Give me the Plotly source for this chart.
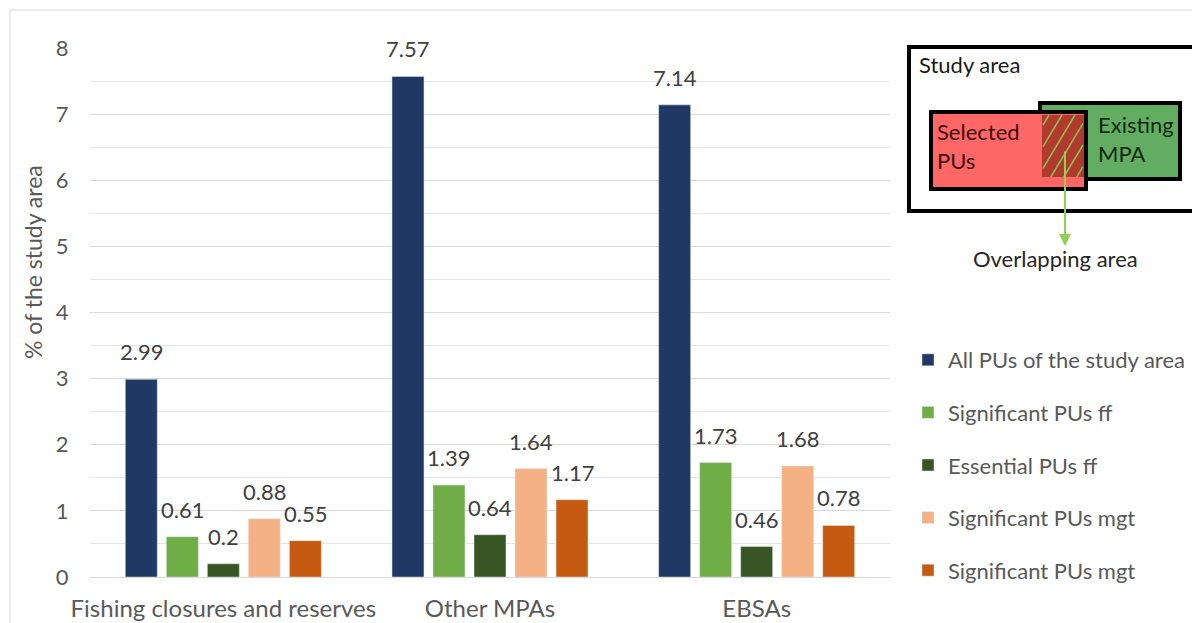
import plotly.graph_objects as go

categories = ["Fishing closures and reserves", "Other MPAs", "EBSAs"]
series_names = ["All PUs of the study area", "Significant PUs ff", "Essential PUs ff",
                "Significant PUs mgt", "Significant PUs mgt"]
all_pus = [2.99, 7.57, 7.14]
sig_ff = [0.61, 1.39, 1.73]
ess_ff = [0.2, 0.64, 0.46]
sig_mgt = [0.88, 1.64, 1.68]
sig_mgt2 = [0.55, 1.17, 0.78]
series_values = [all_pus, sig_ff, ess_ff, sig_mgt, sig_mgt2]
colors = ["#1F3864", "#70AD47", "#375623", "#F4B183", "#C55A11"]
y_ticks = [0, 1, 2, 3, 4, 5, 6, 7, 8]

W, H = 1200, 623
OFF = 8  # page offset of the figure
RL, RR, RT, RB = 90, 890, 48, 577  # plot area in screen pixels
PW, PH = RR - RL, RB - RT
BARGAP = 0.231
GROUPGAP = 0.22
FONT = "Lato"

def px(x):
    return (x - RL) / PW

def py(y):
    return (RB - y) / PH

fig = go.Figure()
for i, (name, vals, col) in enumerate(zip(series_names, series_values, colors)):
    fig.add_trace(go.Bar(x=categories, y=vals, name=name, marker_color=col,
                         legendgroup=f"g{i}", hoverinfo="x+y"))

# data labels
cat_w = PW / len(categories)
slot = (1 - BARGAP) * cat_w / len(series_names)
annotations = []
for i, vals in enumerate(series_values):
    for c, v in zip(categories, vals):
        annotations.append(dict(x=c, y=v, xref="x", yref="y", text=f"{v:g}",
                                showarrow=False, yanchor="bottom",
                                xshift=(i - (len(series_names) - 1) / 2) * slot,
                                yshift=12, font=dict(family=FONT, size=22, color="#404040")))

# y title
annotations.append(dict(x=px(33), y=py(262), xref="paper", yref="paper",
                        xanchor="center", yanchor="middle",
                        text="% of the study area", textangle=-90, showarrow=False,
                        font=dict(family=FONT, size=23, color="#595959")))

# inset texts
annotations += [
    dict(x=px(917), y=py(65), xref="paper", yref="paper", text="Study area", showarrow=False,
         xanchor="left", yanchor="middle", font=dict(family=FONT, size=22, color="#1a1a1a")),
    dict(x=px(935), y=py(146), xref="paper", yref="paper", text="Selected<br>PUs", showarrow=False,
         xanchor="left", yanchor="middle", align="left",
         font=dict(family=FONT, size=22, color="#3a0a0a")),
    dict(x=px(1096), y=py(139), xref="paper", yref="paper", text="Existing<br>MPA", showarrow=False,
         xanchor="left", yanchor="middle", align="left",
         font=dict(family=FONT, size=22, color="#0f2a0f")),
    dict(x=px(1055), y=py(258), xref="paper", yref="paper", text="Overlapping area", showarrow=False,
         xanchor="center", yanchor="middle", font=dict(family=FONT, size=22, color="#262626")),
    dict(x=px(1065), y=py(246), xref="paper", yref="paper", text="", showarrow=True,
         ax=0, ay=-96, arrowhead=2, arrowsize=1.2, arrowwidth=2, arrowcolor="#92D050"),
]

def rect(x0, y0, x1, y1, fill="rgba(0,0,0,0)", line="black", lw=4):
    return dict(type="rect", xref="paper", yref="paper", x0=px(x0), x1=px(x1),
                y0=py(y1), y1=py(y0), fillcolor=fill, line=dict(color=line, width=lw),
                layer="above")

shapes = [
    dict(type="rect", xref="paper", yref="paper", x0=px(10), x1=px(1260), y0=py(660), y1=py(10),
         line=dict(color="#D9D9D9", width=1), fillcolor="rgba(0,0,0,0)", layer="below"),
    rect(909, 47, 1199, 211, lw=4),
    rect(1040, 103, 1180, 179, fill="#62AD62"),
    rect(931, 112, 1086, 189, fill="#FF6666"),
    rect(1042, 115, 1084, 177, fill="#B03A2E", line="rgba(0,0,0,0)", lw=0),
]
# hatching in overlap
hx0, hy0, hx1, hy1 = 1043, 115, 1083, 177
k = 0.6
c = hx0 + 6
while c < hx1 + (hy1 - hy0) * k:
    ya = max(hy0, hy0 + (c - hx1) / k)
    yb = min(hy1, hy0 + (c - hx0) / k)
    if yb > ya:
        xa = c - (ya - hy0) * k
        xb = c - (yb - hy0) * k
        shapes.append(dict(type="line", xref="paper", yref="paper", x0=px(xa), y0=py(ya),
                           x1=px(xb), y1=py(yb), line=dict(color="#8CC152", width=1.5),
                           layer="above"))
    c += 13

fig.update_layout(
    width=W, height=H,
    margin=dict(l=RL - OFF, r=W - (RR - OFF), t=RT - OFF, b=H - (RB - OFF)),
    paper_bgcolor="white", plot_bgcolor="white",
    barmode="group", bargap=BARGAP, bargroupgap=GROUPGAP,
    font=dict(family=FONT, color="#595959"),
    xaxis=dict(showline=True, linecolor="#D9D9D9", ticks="outside", ticklen=10,
               automargin=False,
               tickcolor="rgba(0,0,0,0)", tickfont=dict(family=FONT, size=24, color="#595959")),
    yaxis=dict(range=[0, 8], tickvals=y_ticks, showgrid=True, gridcolor="#D9D9D9",
               minor=dict(dtick=0.5, showgrid=True, gridcolor="#E6E6E6"),
               automargin=False,
               zeroline=False, ticks="outside", ticklen=16, tickcolor="rgba(0,0,0,0)",
               tickfont=dict(family=FONT, size=22, color="#595959")),
    legend=dict(x=px(908), y=py(339), xanchor="left", yanchor="top",
                tracegroupgap=21, font=dict(family=FONT, size=22, color="#595959"),
                bgcolor="rgba(0,0,0,0)"),
    annotations=annotations,
    shapes=shapes,
)

fig.write_html("out.html")
